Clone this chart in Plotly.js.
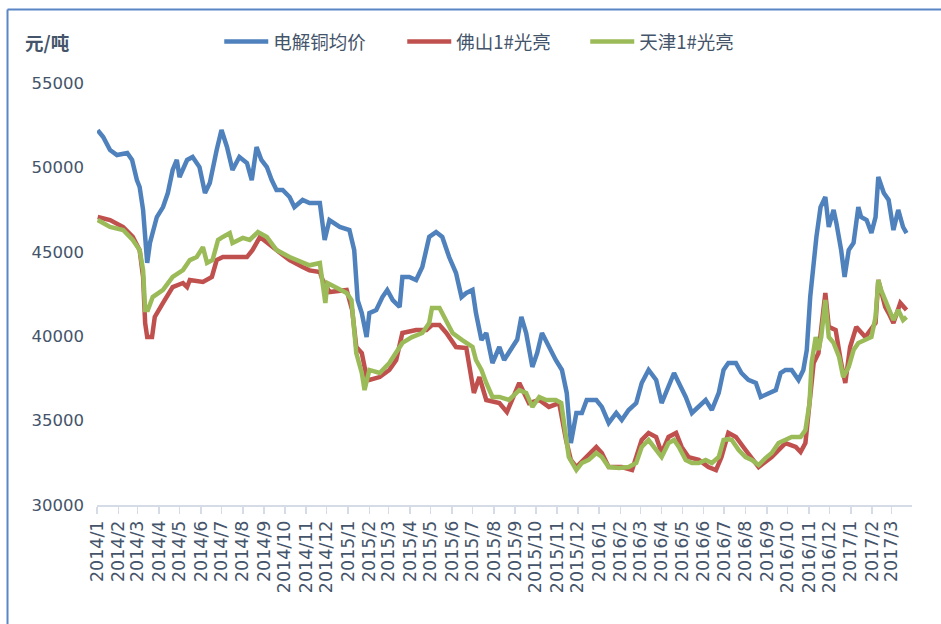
<!DOCTYPE html>
<html>
<head>
<meta charset="utf-8">
<script src="https://cdn.plot.ly/plotly-3.0.1.min.js"></script>
<style>
  html, body { margin: 0; padding: 0; background: #ffffff; }
  #chart { width: 941px; height: 624px; }
</style>
</head>
<body>
<div id="chart"></div>
<script>
// ---------- DATA ----------
const seriesNames = ['电解铜均价', '佛山1#光亮', '天津1#光亮'];
const unitLabel = '元/吨';

const elecDates = ['2014-01-02','2014-01-10','2014-01-20','2014-01-30','2014-02-14','2014-02-21','2014-02-28','2014-03-04','2014-03-09','2014-03-15','2014-03-19','2014-03-29','2014-04-07','2014-04-14','2014-04-21','2014-04-27','2014-05-01','2014-05-12','2014-05-20','2014-05-30','2014-06-07','2014-06-14','2014-06-24','2014-07-01','2014-07-09','2014-07-17','2014-07-27','2014-08-07','2014-08-14','2014-08-21','2014-08-28','2014-09-05','2014-09-12','2014-09-19','2014-09-28','2014-10-08','2014-10-15','2014-10-27','2014-11-06','2014-11-21','2014-11-28','2014-12-05','2014-12-20','2015-01-03','2015-01-10','2015-01-15','2015-01-21','2015-01-28','2015-02-01','2015-02-11','2015-02-20','2015-02-27','2015-03-07','2015-03-17','2015-03-21','2015-03-31','2015-04-10','2015-04-19','2015-04-29','2015-05-09','2015-05-18','2015-05-28','2015-06-07','2015-06-15','2015-06-22','2015-07-01','2015-07-06','2015-07-14','2015-07-21','2015-07-30','2015-08-09','2015-08-16','2015-08-28','2015-09-04','2015-09-10','2015-09-17','2015-09-26','2015-10-03','2015-10-10','2015-10-20','2015-10-30','2015-11-08','2015-11-15','2015-11-21','2015-11-29','2015-12-07','2015-12-14','2015-12-28','2016-01-05','2016-01-15','2016-01-26','2016-02-03','2016-02-13','2016-02-24','2016-03-03','2016-03-13','2016-03-24','2016-04-01','2016-04-11','2016-04-19','2016-04-26','2016-05-06','2016-05-15','2016-05-25','2016-06-04','2016-06-13','2016-06-23','2016-06-30','2016-07-07','2016-07-18','2016-07-26','2016-08-05','2016-08-16','2016-08-23','2016-09-03','2016-09-14','2016-09-21','2016-09-28','2016-10-07','2016-10-17','2016-10-24','2016-10-29','2016-11-03','2016-11-08','2016-11-12','2016-11-18','2016-11-25','2016-11-30','2016-12-07','2016-12-11','2016-12-18','2016-12-23','2016-12-29','2017-01-05','2017-01-12','2017-01-16','2017-01-24','2017-01-31','2017-02-06','2017-02-10','2017-02-18','2017-02-25','2017-03-04','2017-03-11','2017-03-18','2017-03-23'];
const elecValues = [52200,51800,51030,50730,50850,50440,49250,48840,47480,44340,45520,47060,47650,48480,49850,50440,49430,50440,50620,50020,48480,49070,51030,52215,51210,49850,50620,50260,49250,51210,50440,50020,49250,48660,48660,48250,47650,48070,47890,47890,45700,46880,46470,46290,45100,42140,41370,39950,41370,41550,42320,42740,42140,41730,43510,43510,43330,44100,45880,46170,45880,44690,43740,42320,42560,42740,41370,39770,40190,38410,39360,38590,39360,39800,41140,40190,38180,39000,40190,39360,38590,38000,36640,33670,35450,35450,36220,36220,35810,34860,35450,35040,35630,36040,37230,38000,37410,36040,36990,37820,37230,36400,35450,35810,36220,35630,36640,38000,38410,38410,37820,37410,37230,36400,36640,36810,37820,38000,38000,37410,38000,39180,42320,44690,45880,47650,48250,46470,47480,46710,45100,43510,45100,45520,47650,47060,46880,46110,47060,49430,48480,48070,46290,47480,46470,46110];

const foshanDates = ['2014-01-02','2014-01-20','2014-02-08','2014-02-22','2014-03-04','2014-03-09','2014-03-12','2014-03-15','2014-03-22','2014-03-26','2014-04-07','2014-04-21','2014-05-06','2014-05-12','2014-05-16','2014-06-04','2014-06-17','2014-06-24','2014-07-03','2014-08-07','2014-08-15','2014-08-26','2014-09-19','2014-10-08','2014-10-27','2014-11-06','2014-11-21','2014-11-25','2014-12-05','2014-12-30','2015-01-07','2015-01-13','2015-01-21','2015-01-28','2015-02-01','2015-02-16','2015-03-02','2015-03-12','2015-03-21','2015-04-10','2015-04-25','2015-05-03','2015-05-14','2015-05-24','2015-06-07','2015-06-22','2015-07-03','2015-07-11','2015-07-21','2015-08-09','2015-08-20','2015-09-04','2015-09-07','2015-09-21','2015-10-06','2015-10-20','2015-11-04','2015-11-14','2015-11-21','2015-11-29','2015-12-13','2015-12-28','2016-01-05','2016-01-15','2016-02-03','2016-02-18','2016-03-03','2016-03-13','2016-03-24','2016-04-01','2016-04-11','2016-04-22','2016-04-30','2016-05-10','2016-05-25','2016-06-08','2016-06-19','2016-06-27','2016-07-07','2016-07-18','2016-08-01','2016-08-20','2016-09-08','2016-09-28','2016-10-13','2016-10-20','2016-10-27','2016-11-02','2016-11-08','2016-11-15','2016-11-25','2016-11-30','2016-12-10','2016-12-18','2016-12-24','2016-12-31','2017-01-09','2017-01-22','2017-02-06','2017-02-10','2017-02-20','2017-02-25','2017-03-04','2017-03-14','2017-03-23'];
const foshanValues = [47060,46880,46470,45880,45100,43510,40780,39950,39950,41140,41970,42910,43150,42910,43330,43210,43510,44510,44690,44690,45100,45880,45100,44510,44100,43900,43800,43330,42620,42740,41550,39360,39000,37580,37410,37580,38000,38590,40190,40370,40370,40660,40660,40190,39360,39300,36640,37580,36220,36040,35510,37000,37230,36040,36220,35810,36040,33850,32670,32250,32840,33440,33080,32250,32250,32070,33850,34270,34030,33080,34030,34270,33440,32840,32670,32250,32070,32840,34270,34030,33260,32250,32840,33670,33440,33140,33670,36040,38410,39000,42560,40550,40370,38410,37230,39360,40550,39950,40780,43330,41730,41370,40780,41970,41550];

const tianjinDates = ['2014-01-02','2014-01-20','2014-02-08','2014-02-22','2014-03-04','2014-03-09','2014-03-12','2014-03-16','2014-03-23','2014-04-07','2014-04-21','2014-05-06','2014-05-16','2014-05-26','2014-06-04','2014-06-10','2014-06-18','2014-06-26','2014-07-03','2014-07-13','2014-07-17','2014-08-01','2014-08-11','2014-08-23','2014-09-05','2014-09-19','2014-10-08','2014-10-23','2014-11-06','2014-11-21','2014-11-25','2014-11-29','2014-12-02','2014-12-15','2014-12-30','2015-01-06','2015-01-10','2015-01-13','2015-01-21','2015-01-25','2015-02-01','2015-02-16','2015-03-02','2015-03-12','2015-03-21','2015-04-04','2015-04-19','2015-04-29','2015-05-03','2015-05-14','2015-05-24','2015-06-02','2015-06-16','2015-07-01','2015-07-06','2015-07-14','2015-07-21','2015-07-30','2015-08-09','2015-08-23','2015-09-07','2015-09-17','2015-09-26','2015-10-06','2015-10-16','2015-10-30','2015-11-07','2015-11-14','2015-11-18','2015-11-29','2015-12-07','2015-12-17','2015-12-28','2016-01-05','2016-01-15','2016-01-30','2016-02-13','2016-02-24','2016-03-03','2016-03-13','2016-03-24','2016-04-01','2016-04-11','2016-04-19','2016-04-26','2016-05-06','2016-05-15','2016-05-25','2016-06-04','2016-06-13','2016-06-23','2016-06-30','2016-07-07','2016-07-12','2016-07-22','2016-08-01','2016-08-10','2016-08-20','2016-08-30','2016-09-08','2016-09-18','2016-09-28','2016-10-07','2016-10-20','2016-10-27','2016-11-02','2016-11-05','2016-11-11','2016-11-15','2016-11-19','2016-11-25','2016-11-30','2016-12-07','2016-12-15','2016-12-21','2016-12-29','2017-01-05','2017-01-12','2017-01-22','2017-01-31','2017-02-06','2017-02-10','2017-02-14','2017-02-20','2017-02-25','2017-03-04','2017-03-11','2017-03-18','2017-03-23'];
const tianjinValues = [46880,46470,46290,45700,45100,43920,41550,41550,42320,42740,43510,43920,44510,44690,45280,44340,44510,45700,45880,46110,45520,45820,45700,46170,45880,45100,44690,44400,44200,44340,43330,41970,43150,42910,42560,42140,40550,39000,37820,36810,38000,37820,38410,39000,39600,39950,40190,40780,41670,41670,40960,40190,39770,39360,38590,38000,37230,36400,36400,36220,36810,36640,35810,36400,36220,36220,36040,34270,32840,32070,32490,32670,33080,32840,32250,32190,32250,32490,33440,33850,33260,32840,33670,33850,33440,32670,32490,32490,32670,32490,32840,33850,33900,33850,33260,32840,32670,32370,32780,33080,33670,33850,34030,34030,34440,36040,38410,39950,39180,39950,42140,39950,39600,38770,37580,38180,39180,39600,39770,39950,41140,43330,42740,42140,41730,40960,41550,40960,41140];

const monthTicks = ['2014-01-01','2014-02-01','2014-03-01','2014-04-01','2014-05-01','2014-06-01','2014-07-01','2014-08-01','2014-09-01','2014-10-01','2014-11-01','2014-12-01','2015-01-01','2015-02-01','2015-03-01','2015-04-01','2015-05-01','2015-06-01','2015-07-01','2015-08-01','2015-09-01','2015-10-01','2015-11-01','2015-12-01','2016-01-01','2016-02-01','2016-03-01','2016-04-01','2016-05-01','2016-06-01','2016-07-01','2016-08-01','2016-09-01','2016-10-01','2016-11-01','2016-12-01','2017-01-01','2017-02-01','2017-03-01'];
const monthLabels = ['2014/1','2014/2','2014/3','2014/4','2014/5','2014/6','2014/7','2014/8','2014/9','2014/10','2014/11','2014/12','2015/1','2015/2','2015/3','2015/4','2015/5','2015/6','2015/7','2015/8','2015/9','2015/10','2015/11','2015/12','2016/1','2016/2','2016/3','2016/4','2016/5','2016/6','2016/7','2016/8','2016/9','2016/10','2016/11','2016/12','2017/1','2017/2','2017/3'];
const yTicks = [30000, 35000, 40000, 45000, 50000, 55000];
const yTickLabels = ['30000', '35000', '40000', '45000', '50000', '55000'];

// ---------- STYLE ----------
const colors = ['#4F81BD', '#C0504D', '#9BBB59'];
const textColor = '#44546A';
const fontFamily = 'DejaVu Sans, "Noto Sans CJK SC", sans-serif';
const cjkFamily = '"Noto Sans CJK SC", sans-serif';

const traces = [
  { x: elecDates, y: elecValues, name: seriesNames[0] },
  { x: foshanDates, y: foshanValues, name: seriesNames[1] },
  { x: tianjinDates, y: tianjinValues, name: seriesNames[2] }
].map((t, i) => Object.assign(t, {
  type: 'scatter', mode: 'lines',
  line: { color: colors[i], width: 4.5 },
  hoverinfo: 'skip'
}));

const layout = {
  width: 941, height: 624,
  margin: { l: 97, r: 29, t: 83, b: 119 },
  paper_bgcolor: '#ffffff', plot_bgcolor: '#ffffff',
  font: { family: fontFamily, color: textColor },
  showlegend: true,
  legend: {
    orientation: 'h', xref: 'paper', yref: 'paper',
    x: 0.150, y: 1.097, xanchor: 'left', yanchor: 'middle',
    font: { family: cjkFamily, size: 18.5, color: textColor },
    itemwidth: 44, entrywidth: 124, entrywidthmode: 'pixels',
    bgcolor: 'rgba(0,0,0,0)', traceorder: 'normal'
  },
  xaxis: {
    type: 'date', range: ['2014-01-01', '2017-03-31'],
    tickmode: 'array', tickvals: monthTicks, ticktext: monthLabels,
    tickangle: -90, ticks: 'outside', ticklen: 7, tickwidth: 1.5, tickcolor: '#D5DCE8',
    showline: true, linecolor: '#D5DCE8', linewidth: 1.5,
    showgrid: false, zeroline: false,
    tickfont: { family: fontFamily, size: 17.5, color: textColor }
  },
  yaxis: {
    range: [30000, 55000], tickmode: 'array', tickvals: yTicks, ticktext: yTickLabels,
    ticks: '', showline: false, showgrid: false, zeroline: false,
    ticklabelstandoff: 12,
    tickfont: { family: fontFamily, size: 16.5, color: textColor }
  },
  annotations: [{
    text: '<b>' + unitLabel + '</b>', xref: 'paper', yref: 'paper',
    x: -0.0908, y: 1.097, xanchor: 'left', yanchor: 'middle', showarrow: false,
    font: { family: cjkFamily, size: 18.5, color: textColor }
  }],
  shapes: [
    { type: 'line', xref: 'paper', yref: 'paper', x0: -0.1098, x1: 1.05, y0: 1.1742, y1: 1.1742,
      line: { color: '#5B86C5', width: 2 } },
    { type: 'line', xref: 'paper', yref: 'paper', x0: -0.1098, x1: -0.1098, y0: 1.1742, y1: -0.3,
      line: { color: '#5B86C5', width: 2 } }
  ]
};

Plotly.newPlot('chart', traces, layout, { staticPlot: true, displayModeBar: false });
</script>
</body>
</html>
